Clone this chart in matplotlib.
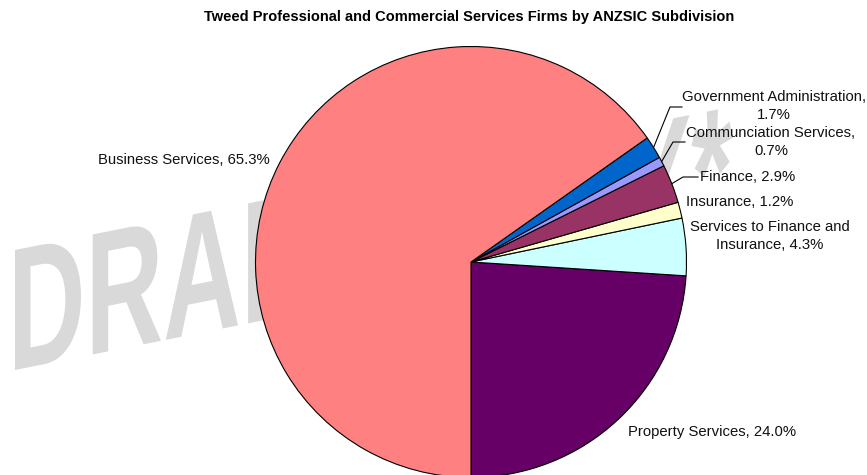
import numpy as np
import matplotlib.pyplot as plt
from matplotlib.textpath import TextPath
from matplotlib.patches import PathPatch
from matplotlib.font_manager import FontProperties
from matplotlib.transforms import Affine2D
from matplotlib.lines import Line2D

# ANZSIC subdivisions, counter-clockwise from 6 o'clock
names = ["Property Services", "Services to Finance and\nInsurance", "Insurance",
         "Finance", "Communciation Services", "Government Administration",
         "Business Services"]
shares = [24.0, 4.3, 1.2, 2.9, 0.7, 1.7, 65.3]
seps = [", ", ", ", ", ", ", ", ",\n", ",\n", ", "]
colors = ["#660066", "#CCFFFF", "#FFFFCC", "#993366", "#9999FF", "#0066CC", "#FF8080"]

W, H = 867, 475
plt.rcParams['font.family'] = ['Liberation Sans', 'DejaVu Sans']

fig = plt.figure(figsize=(W / 100, H / 100), dpi=100)

def px(x, y):
    # pixel (from top-left) -> figure fraction
    return x / W, 1 - y / H

# watermark, sheared like the excel wordart
prop = FontProperties(family='Liberation Sans', weight='bold')
tp = TextPath((0, 0), "DRAFT ONLY*", size=1, prop=prop)
cap = TextPath((0, 0), "D", size=1, prop=prop).get_extents().height
ext = tp.get_extents()
sx = 718 / ext.width
sy = 120 / cap
wm = (Affine2D().translate(-ext.x0, 0).scale(sx, sy).skew(0, np.arctan(0.2))
      .translate(15, H - 370).scale(1 / W, 1 / H) + fig.transFigure)
fig.add_artist(PathPatch(tp, transform=wm, facecolor="#D9D9D9", edgecolor="none", zorder=-1))

cx, cy, r = 471, 262, 215.5
ax = fig.add_axes([(cx - r) / W, (H - cy - r) / H, 2 * r / W, 2 * r / H])
wedges, _ = ax.pie(shares, colors=colors, startangle=-90, counterclock=True,
                   wedgeprops=dict(edgecolor="black", linewidth=0.8))
ax.set_xlim(-1, 1)
ax.set_ylim(-1, 1)
ax.set_aspect('auto')
ax.axis('off')
ax.patch.set_visible(False)

fig.text(*px(469, 17), "Tweed Professional and Commercial Services Firms by ANZSIC Subdivision",
         ha="center", va="center", fontsize=10.5, fontweight="bold")

labels = [n + s + f"{v:.1f}%" for n, s, v in zip(names, seps, shares)]
label_pos = [(628, 432, "left"), (770, 236, "center"), (686, 202, "left"),
             (700, 177, "left"), (771, 142, "center"), (774, 106, "center"),
             (270, 160, "right")]
for lab, (x, y, ha) in zip(labels, label_pos):
    fig.text(*px(x, y), lab, ha=ha, va="center", multialignment="center",
             fontsize=10.7, linespacing=1.42, color="#111111")

# leader lines for the thin slices: index -> elbow, end (pixels)
leaders = {5: ((670, 107), (682, 107)), 4: ((673, 142), (685, 142)), 3: ((683, 177), (698, 177))}
for i, (elbow, end) in leaders.items():
    w = wedges[i]
    mid = np.deg2rad((w.theta1 + w.theta2) / 2)
    sxp = cx + r * np.cos(mid)
    syp = cy - r * np.sin(mid)
    xs, ys = zip(*[px(sxp, syp), px(*elbow), px(*end)])
    fig.add_artist(Line2D(xs, ys, color="black", linewidth=0.8))

fig.savefig("out.png", dpi=100)
